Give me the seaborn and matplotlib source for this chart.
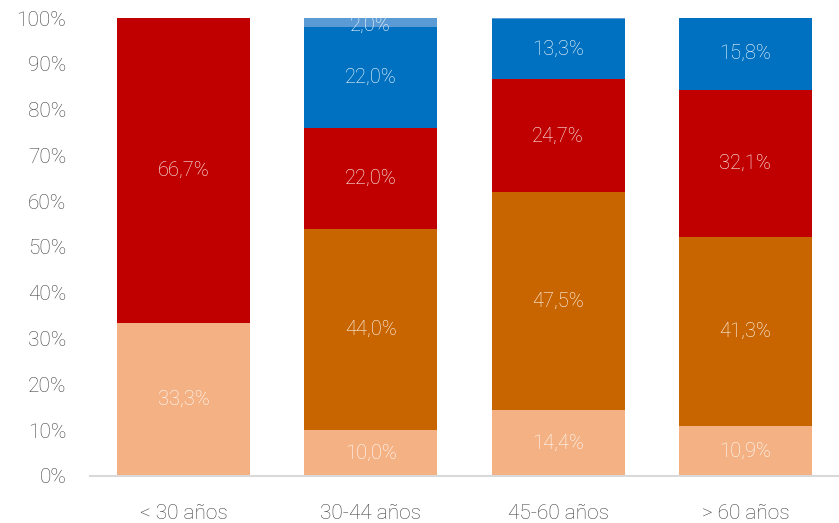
import numpy as np
import pandas as pd
import seaborn as sns
import matplotlib.pyplot as plt

categories = ["< 30 años", "30-44 años", "45-60 años", "> 60 años"]
s1 = [33.3, 10.0, 14.4, 10.9]   # light orange
s2 = [0.0, 44.0, 47.5, 41.3]    # dark orange
s3 = [66.7, 22.0, 24.7, 32.1]   # red
s4 = [0.0, 22.0, 13.3, 15.8]    # blue
s5 = [0.0, 2.0, 0.1, 0.0]       # light blue
series = [s1, s2, s3, s4, s5]
colors = ["#F4B183", "#C96500", "#C00000", "#0070C0", "#5B9BD5"]

sns.set_style("white")
plt.rcParams['font.family'] = ['Roboto', 'DejaVu Sans']

fig = plt.figure(figsize=(8.39, 5.23), dpi=100)
ax = fig.add_axes([0.107, 0.09, 0.893, 0.8755])

bottom = np.zeros(len(categories))
for vals, col in zip(series, colors):
    df = pd.DataFrame({"cat": categories, "val": vals})
    sns.barplot(data=df, x="cat", y="val", color=col, bottom=bottom,
                width=0.71, saturation=1, linewidth=0, ax=ax)
    for i, v in enumerate(vals):
        if v >= 1:
            y = bottom[i] + v / 2
            if bottom[i] + v > 99.9 and v < 5:
                y = bottom[i] + v / 2 - 0.5
            ax.text(i, y, f"{v:.1f}%".replace(".", ","), ha="center", va="center",
                    color="white", fontsize=14.5, fontweight="light")
    bottom = bottom + np.array(vals)

ax.set_xlim(-0.5, 3.5)
ax.set_ylim(0, 100)
ax.set_yticks(range(0, 101, 10))
ax.set_yticklabels([f"{t}%" for t in range(0, 101, 10)])
ax.set_xlabel("")
ax.set_ylabel("")
for s in ["top", "right", "left"]:
    ax.spines[s].set_visible(False)
ax.spines["bottom"].set_color("#D9D9D9")
ax.spines["bottom"].set_linewidth(1.5)
ax.tick_params(axis="both", length=0, labelsize=15, labelcolor="#404040")
ax.tick_params(axis="x", pad=20)
ax.tick_params(axis="y", pad=17)
for lab in ax.get_xticklabels() + ax.get_yticklabels():
    lab.set_fontweight("light")

fig.savefig("out.png", dpi=100)
